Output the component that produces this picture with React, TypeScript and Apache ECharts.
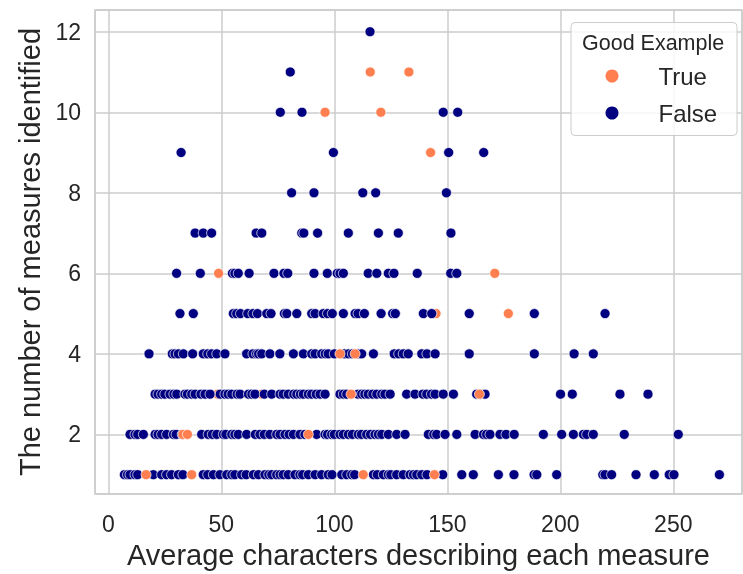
import { useEffect, useRef } from "react";
import * as echarts from "echarts";

// y levels: number of measures identified
const levels = [1, 2, 3, 4, 5, 6, 7, 8, 9, 10, 11, 12];

// x values (average characters) of "False" points on each level
const falseX1 = [7.1, 8.5, 9.6, 11.8, 13, 19.9, 23.6, 25.8, 28, 31, 33, 42, 44, 46.5, 49.4, 52.4, 54.6, 56, 59, 61, 64.2, 66.4, 69.3, 71, 72.3, 74.5, 76, 77.4, 79.6, 82.6, 84.8, 86, 88.5, 91.5, 94.4, 97.3, 99, 103.3, 105.5, 107.7, 109, 117.3, 119, 121.7, 123.9, 125, 127.6, 130.5, 133.5, 135, 136.5, 138.7, 141, 148, 156.4, 161.5, 172.6, 179.5, 188.4, 189.6, 198.4, 218.8, 219.8, 222.7, 233.5, 241.6, 248.2, 250.3, 270.4];
const falseX2 = [9.6, 11.8, 13, 15.5, 20.7, 22, 23.6, 25.8, 28.8, 30, 32.7, 41.3, 44.2, 46, 48, 50.9, 52, 54.6, 56, 57.5, 61.2, 65, 67.1, 69, 71.5, 74.5, 76, 78.2, 80, 81.9, 84.8, 87, 92.2, 95.9, 97, 98.8, 100, 102.5, 104, 106.2, 108, 110.6, 112, 114.3, 116, 118, 119.5, 121, 123.9, 127.6, 131.3, 141.6, 144, 145.3, 149, 154.2, 162.3, 166, 167.4, 168.9, 173.3, 176, 179.6, 192.5, 200.6, 205.8, 210.2, 211.7, 214.6, 228.3, 252.2];
const falseX3 = [20.7, 22, 23.6, 25, 27.3, 29, 30.3, 33.9, 35, 36.9, 38.4, 41, 42.8, 45, 49.5, 51.6, 53, 54.6, 57, 58.3, 62, 63.5, 64.9, 69, 72.3, 76, 77.4, 79.6, 82, 83.4, 85, 86.3, 88.5, 90, 92, 93.7, 95.9, 102.5, 104, 105.5, 110.5, 112.1, 113.5, 115, 117, 118.8, 121, 122.4, 124.7, 132, 135.7, 139.2, 140.9, 143, 144.6, 148.2, 152.7, 163, 164.8, 166.7, 200.1, 205.3, 226.4, 238.8];
const falseX4 = [18, 28.3, 29.5, 31, 33.2, 37.3, 42, 44, 45.7, 48, 51.6, 61.2, 64, 65.6, 66.5, 67.9, 71.5, 75.9, 81.9, 86.3, 90, 91.5, 94.4, 96, 97.3, 100, 104.5, 106.2, 108, 110.5, 112.1, 117.3, 126.5, 128.5, 130.5, 132.7, 138.7, 141, 144.6, 159.7, 188.5, 206.1, 214.6];
const falseX5 = [31.7, 37.6, 55.3, 56.8, 58.5, 61.7, 64, 66, 70.1, 72, 77.9, 79, 83.4, 90, 91.5, 95.1, 97, 99.1, 104, 109.2, 110.5, 113.3, 120.7, 125.8, 127, 139.4, 143.1, 159.7, 188.5, 219.8];
const falseX6 = [30.2, 40.7, 54.9, 56, 57.5, 62.3, 73.3, 77.7, 79.4, 91, 96.9, 101.3, 102.5, 104, 115, 118.8, 123.9, 126.4, 136.7, 151.5, 154.2];
const falseX7 = [38.4, 42, 45.7, 65.4, 67.9, 85.6, 86.5, 92.6, 106.2, 119.5, 128.3, 151.6];
const falseX8 = [81.1, 91, 112.6, 118.3, 149.6];
const falseX9 = [32.2, 99.6, 150.6, 166.1];
const falseX10 = [76.1, 85.7, 148.2, 154.6];
const falseX11 = [80.5];
const falseX12 = [115.8];

// x values of "True" points drawn beneath the False points
const trueBackX3 = [48.4, 67.9];
const trueBackX5 = [145];

// x values of "True" points drawn on top
const trueX1 = [16.7, 36.9, 112.8, 144.3];
const trueX2 = [33, 35, 88.5];
const trueX3 = [107.4, 164.2];
const trueX4 = [102.5, 109.2];
const trueX5 = [177];
const trueX6 = [48.8, 171];
const trueX9 = [142.6];
const trueX10 = [95.9, 120.6];
const trueX11 = [115.9, 133];

const falseRows = [falseX1, falseX2, falseX3, falseX4, falseX5, falseX6, falseX7, falseX8, falseX9, falseX10, falseX11, falseX12];
const trueBackRows: number[][] = [[], [], trueBackX3, [], trueBackX5, [], [], [], [], [], [], []];
const trueRows: number[][] = [trueX1, trueX2, trueX3, trueX4, trueX5, trueX6, [], [], trueX9, trueX10, trueX11, []];

const xTitle = "Average characters describing each measure";
const yTitle = "The number of measures identified";
const legendTitle = "Good Example";
const seriesNames = ["True", "False"];

const toPoints = (rows: number[][]) =>
  rows.flatMap((xs, i) => xs.map((x) => [x, levels[i]]));

const FONT = "'Liberation Sans', Arial, Helvetica, sans-serif";
const TEXT = "#262626";
const GRID = "#cccccc";
const CORAL = "#FF7F50";
const NAVY = "#000080";

export default function App() {
  const ref = useRef<HTMLDivElement>(null);
  useEffect(() => {
    const chart = echarts.init(ref.current!, null, { renderer: "svg" });
    const marker = (color: string) => ({
      color,
      opacity: 1,
      borderColor: "#ffffff",
      borderWidth: 0.7,
    });
    const isMultiple = (v: number, step: number) =>
      Math.abs(v / step - Math.round(v / step)) < 1e-6;
    chart.setOption({
      animation: false,
      textStyle: { fontFamily: FONT },
      grid: {
        left: 95,
        right: 1,
        top: 10,
        bottom: 77,
        show: true,
        borderColor: GRID,
        borderWidth: 1.5,
        backgroundColor: "transparent",
      },
      xAxis: {
        type: "value",
        min: -5.9,
        max: 280.4,
        splitNumber: 5,
        axisLine: { show: false },
        axisTick: { show: false },
        splitLine: { show: true, lineStyle: { color: GRID, width: 1.5 } },
        axisLabel: {
          fontSize: 23,
          color: TEXT,
          fontFamily: FONT,
          margin: 18,
          showMinLabel: false,
          showMaxLabel: false,
          formatter: (v: number) => (isMultiple(v, 50) ? String(v) : ""),
        },
        name: xTitle,
        nameLocation: "middle",
        nameGap: 46,
        nameTextStyle: { fontSize: 29, color: TEXT, fontFamily: FONT },
      },
      yAxis: {
        type: "value",
        min: 0.52,
        max: 12.54,
        splitNumber: 5,
        axisLine: { show: false },
        axisTick: { show: false },
        splitLine: { show: true, lineStyle: { color: GRID, width: 1.5 } },
        axisLabel: {
          fontSize: 23,
          color: TEXT,
          fontFamily: FONT,
          margin: 14,
          showMinLabel: false,
          showMaxLabel: false,
          formatter: (v: number) => (isMultiple(v, 2) ? String(v) : ""),
        },
        name: yTitle,
        nameLocation: "middle",
        nameGap: 50,
        nameTextStyle: { fontSize: 29, color: TEXT, fontFamily: FONT },
      },
      legend: {
        data: seriesNames,
        orient: "vertical",
        left: 605.5,
        top: 64,
        padding: 0,
        itemWidth: 13,
        itemHeight: 13,
        itemGap: 13,
        icon: "circle",
        selectedMode: false,
        itemStyle: { opacity: 1, borderWidth: 0 },
        textStyle: {
          fontSize: 24,
          color: TEXT,
          fontFamily: FONT,
          padding: [0, 0, 0, 35],
        },
      },
      graphic: [
        {
          type: "rect",
          z: 3,
          shape: { x: 571, y: 22.5, width: 166, height: 113, r: 4 },
          style: { fill: "rgba(255,255,255,0.8)", stroke: GRID, lineWidth: 1 },
        },
        {
          type: "text",
          z: 5,
          x: 582,
          y: 43,
          style: {
            text: legendTitle,
            fontSize: 21.5,
            fontFamily: FONT,
            fill: TEXT,
            verticalAlign: "middle",
            align: "left",
          },
        },
      ],
      series: [
        {
          name: "True",
          type: "scatter",
          data: toPoints(trueBackRows),
          symbolSize: 10,
          itemStyle: marker(CORAL),
          silent: true,
        },
        {
          name: "False",
          type: "scatter",
          data: toPoints(falseRows),
          symbolSize: 10,
          itemStyle: marker(NAVY),
          silent: true,
        },
        {
          name: "True",
          type: "scatter",
          data: toPoints(trueRows),
          symbolSize: 10,
          itemStyle: marker(CORAL),
          silent: true,
        },
      ],
    });
    return () => chart.dispose();
  }, []);
  return (
    <div
      ref={ref}
      style={{ position: "fixed", left: 0, top: 0, width: 743, height: 574 }}
    />
  );
}
